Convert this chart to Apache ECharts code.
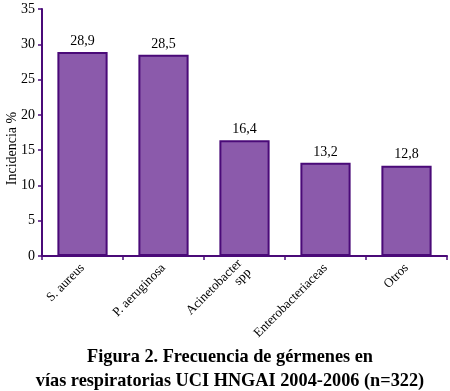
<!DOCTYPE html>
<html>
<head>
<meta charset="utf-8">
<script src="https://cdn.jsdelivr.net/npm/echarts@6/dist/echarts.min.js"></script>
<style>
  html, body { margin: 0; padding: 0; background: #ffffff; }
  #chart { width: 450px; height: 391px; }
</style>
</head>
<body>
<div id="chart"></div>
<script>
var categories = ['S. aureus', 'P. aeruginosa', 'Acinetobacter\nspp', 'Enterobacteriaceas', 'Otros']
var incidencia = [28.9, 28.5, 16.4, 13.2, 12.8]

var purple = '#4a0a78'
var fill = '#8b5aab'
var serif = '"Liberation Serif", "Times New Roman", serif'

var myChart = echarts.init(document.getElementById('chart'))
var option = {
  backgroundColor: '#ffffff',
  animation: false,
  title: {
    text: 'Figura 2. Frecuencia de gérmenes en\nvías respiratorias UCI HNGAI 2004-2006 (n=322)',
    left: 225,
    textAlign: 'center',
    top: 340,
    textStyle: {
      fontFamily: serif,
      fontWeight: 'bold',
      fontSize: 18.3,
      lineHeight: 24,
      color: '#000000'
    }
  },
  grid: {
    left: 42,
    right: 3,
    top: 9,
    bottom: 135,
    outerBoundsMode: 'none'
  },
  xAxis: {
    type: 'category',
    data: categories,
    axisLine: { lineStyle: { color: purple, width: 2 } },
    axisTick: { show: true, length: 4, lineStyle: { color: purple, width: 1.5 } },
    axisLabel: {
      rotate: 45,
      interval: 0,
      margin: 10,
      fontFamily: serif,
      fontSize: 13,
      color: '#000000',
      lineHeight: 13
    }
  },
  yAxis: {
    type: 'value',
    min: 0,
    max: 35,
    interval: 5,
    name: 'Incidencia %',
    nameLocation: 'middle',
    nameGap: 23,
    nameMoveOverlap: false,
    nameTextStyle: { fontFamily: serif, fontSize: 14, color: '#000000', padding: [0, 32, 0, 0] },
    axisLine: { show: true, lineStyle: { color: purple, width: 2 } },
    axisTick: { show: true, length: 4, lineStyle: { color: purple, width: 1.5 } },
    splitLine: { show: false },
    axisLabel: { fontFamily: serif, fontSize: 14, color: '#000000', margin: 7 }
  },
  series: [
    {
      type: 'bar',
      data: incidencia,
      barWidth: '62%',
      itemStyle: { color: fill, borderColor: purple, borderWidth: 2 },
      label: {
        show: true,
        position: 'top',
        distance: 4,
        fontFamily: serif,
        fontSize: 14,
        color: '#000000',
        formatter: function(p) {
          return String(p.value).replace('.', ',')
        }
      }
    }
  ]
}

myChart.setOption(option, true)
</script>
</body>
</html>
